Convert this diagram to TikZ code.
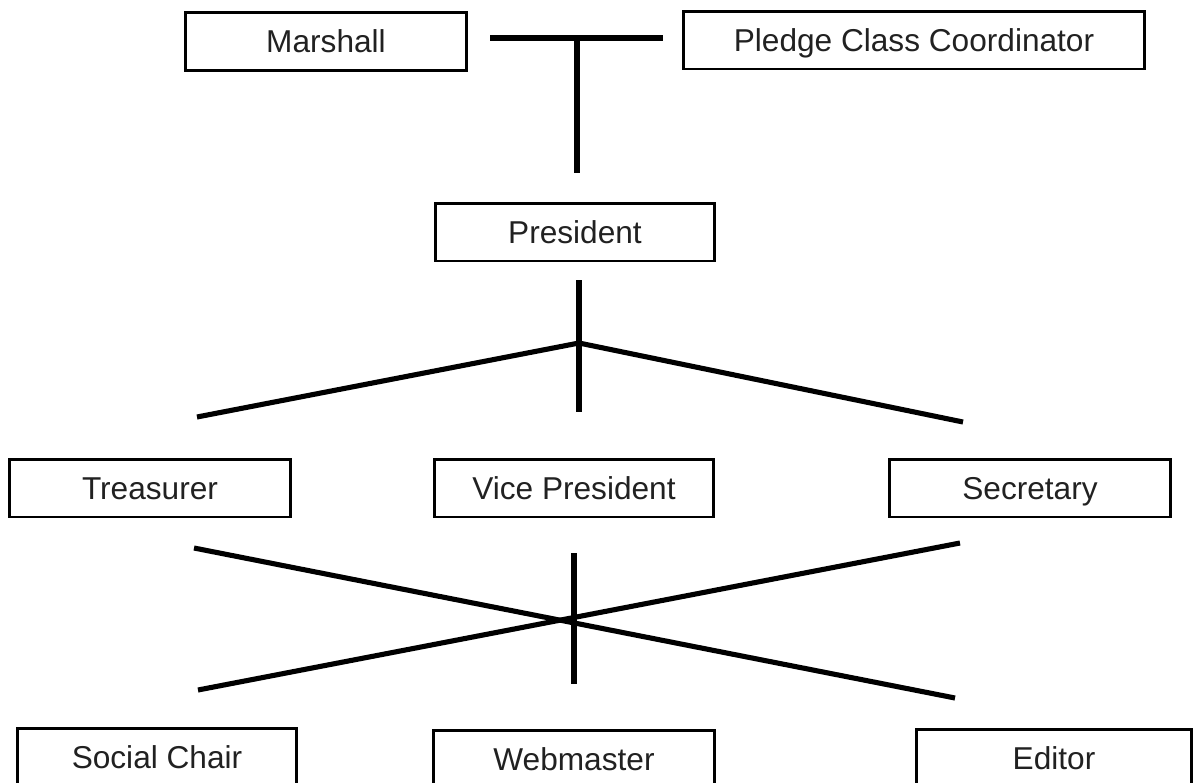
\documentclass[tikz,border=0pt]{standalone}
\usepackage{fontspec}
\setmainfont{Liberation Sans}
\usepackage{tikz}
\definecolor{boxtext}{rgb}{0.13, 0.13, 0.13}

\begin{document}
\begin{tikzpicture}[x=0.02cm, y=-0.02cm,
    office/.style={draw=black, line width=1.7pt, inner sep=0pt, minimum height=1.16cm, text height=13pt, text depth=0pt, text=boxtext, font=\fontsize{18}{21}\selectfont},
    tie/.style={line width=2.9pt, black}]
    \useasboundingbox (0,0) rectangle (1194,782);

    %% Offices
    \node[office, minimum width=5.62cm] (marshall) at (326,41.5) {Marshall};
    \node[office, minimum width=9.24cm] (pledge) at (914,40) {Pledge Class Coordinator};
    \node[office, minimum width=5.6cm] (president) at (575,232) {President};
    \node[office, minimum width=5.62cm] (treasurer) at (150,488) {Treasurer};
    \node[office, minimum width=5.6cm] (vicepres) at (574,488) {Vice President};
    \node[office, minimum width=5.64cm] (secretary) at (1030,488) {Secretary};
    \node[office, minimum width=5.6cm] (social) at (157,757) {Social Chair};
    \node[office, minimum width=5.64cm] (webmaster) at (574,759) {Webmaster};
    \node[office, minimum width=5.52cm] (editor) at (1054,758) {Editor};

    %% Top T
    \coordinate (tL) at (490,38);
    \coordinate (tR) at (663,38);
    \coordinate (tJ) at (577,38);
    \coordinate (tB) at (577,173);
    \draw[tie] (tL) -- (tR);
    \draw[tie] (tJ) -- (tB);

    %% Fork below the president
    \coordinate (fTop) at (579,280);
    \coordinate (fApex) at (579,343);
    \coordinate (fBot) at (579,412);
    \coordinate (fL) at (197,417);
    \coordinate (fR) at (963,422);
    \draw[tie] (fTop) -- (fBot);
    \draw[tie, line join=miter] (fL) -- (fApex) -- (fR);

    %% Cross below the middle row
    \coordinate (xTL) at (194,548);
    \coordinate (xBR) at (955,698);
    \coordinate (xBL) at (198,690);
    \coordinate (xTR) at (960,543);
    \coordinate (xT) at (574,553);
    \coordinate (xB) at (574,684);
    \draw[tie] (xTL) -- (xBR);
    \draw[tie] (xBL) -- (xTR);
    \draw[tie] (xT) -- (xB);
\end{tikzpicture}
\end{document}
